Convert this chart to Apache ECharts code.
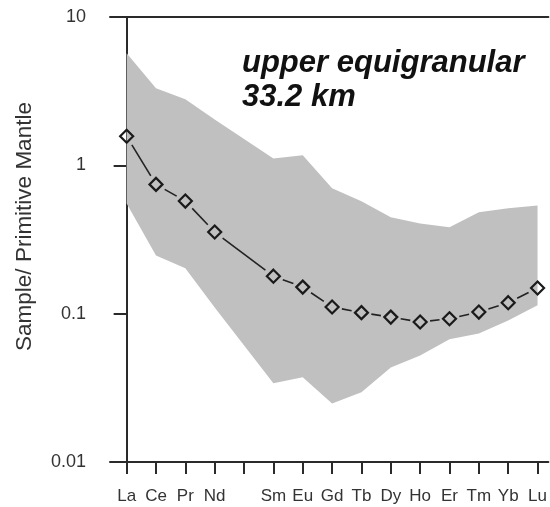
<!DOCTYPE html>
<html>
<head>
<meta charset="utf-8">
<script src="https://cdn.jsdelivr.net/npm/echarts@6/dist/echarts.min.js"></script>
<style>
html,body{margin:0;padding:0;background:#fff;}
#chart{width:550px;height:507px;}
</style>
</head>
<body>
<div id="chart"></div>
<script>
// Element names (Pm position left unlabelled, no data)
var elements = ['La','Ce','Pr','Nd','','Sm','Eu','Gd','Tb','Dy','Ho','Er','Tm','Yb','Lu'];
// Sample / primitive mantle values
var sample = [1.57, 0.744, 0.574, 0.355, null, 0.179, 0.151, 0.111, 0.1016, 0.0948, 0.0878, 0.0925, 0.1025, 0.1186, 0.149];
// Envelope of the grey field
var fieldUpper = [5.69, 3.31, 2.79, 2.04, null, 1.11, 1.17, 0.70, 0.572, 0.446, 0.406, 0.382, 0.482, 0.513, 0.537];
var fieldLower = [0.554, 0.247, 0.202, 0.110, null, 0.0339, 0.0372, 0.0248, 0.0295, 0.0434, 0.0523, 0.0671, 0.0736, 0.0901, 0.1138];
var yTicks = [0.01, 0.1, 1, 10];
var annotation = ['upper equigranular', '33.2 km'];

var grey = '#c0c0c0';
var ink = '#2a2a2a';

function pairs(arr) {
  var out = [];
  arr.forEach(function (v, i) { if (v !== null) out.push([i, v]); });
  return out;
}
var samplePts = pairs(sample);
var upperPts = pairs(fieldUpper);
var lowerPts = pairs(fieldLower);
var segIdx = samplePts.slice(1).map(function (p, i) { return i; });
var tickIdx = elements.map(function (e, i) { return i; });
var labelIdx = elements.map(function (e, i) { return i; }).filter(function (i) { return elements[i] !== ''; });

var GAP = 10; // px gap left around each marker

var chart = echarts.init(document.getElementById('chart'));
chart.setOption({
  animation: false,
  backgroundColor: '#fff',
  grid: { left: 110, right: 0, top: 17, bottom: 45, containLabel: false },
  xAxis: [{
    type: 'value', min: -0.567, max: 14.37, position: 'bottom',
    axisLine: { show: true, lineStyle: { color: ink, width: 2 } },
    axisTick: { show: true, customValues: tickIdx, length: 12, inside: false, lineStyle: { color: ink, width: 2 } },
    axisLabel: { show: true, customValues: labelIdx, margin: 26, fontSize: 17, color: '#333',
      fontFamily: 'Liberation Sans, Arial, sans-serif',
      formatter: function (v) { return elements[Math.round(v)] || ''; } },
    splitLine: { show: false }
  }, {
    type: 'value', min: -0.567, max: 14.37, position: 'top',
    axisLine: { show: true, lineStyle: { color: ink, width: 2 } },
    axisTick: { show: false }, axisLabel: { show: false }, splitLine: { show: false }
  }],
  yAxis: {
    type: 'log', logBase: 10, min: 0.01, max: 10,
    name: 'Sample/ Primitive Mantle', nameLocation: 'middle', nameGap: 74, nameRotate: 90,
    nameTextStyle: { fontSize: 22.5, color: '#333', fontFamily: 'Liberation Sans, Arial, sans-serif', padding: [0, 0, 0, 26] },
    axisLine: { show: true, lineStyle: { color: ink, width: 2 } },
    axisTick: { show: true, length: 13, inside: false, lineStyle: { color: ink, width: 2 } },
    axisLabel: { margin: 24, fontSize: 18, color: '#333', fontFamily: 'Liberation Sans, Arial, sans-serif',
      customValues: yTicks,
      formatter: function (v) { return String(+v.toPrecision(2)); } },
    splitLine: { show: false }
  },
  series: [{
    type: 'custom',
    z: 1,
    data: [0],
    renderItem: function (params, api) {
      var pts = [];
      upperPts.forEach(function (p) { pts.push(api.coord(p)); });
      for (var i = lowerPts.length - 1; i >= 0; i--) pts.push(api.coord(lowerPts[i]));
      return { type: 'polygon', shape: { points: pts }, style: { fill: grey, stroke: null } };
    },
    silent: true
  }, {
    // connecting line, broken around each marker
    type: 'custom', z: 2, data: segIdx, silent: true,
    renderItem: function (params, api) {
      var i = params.dataIndex;
      var a = api.coord(samplePts[i]);
      var b = api.coord(samplePts[i + 1]);
      var dx = b[0] - a[0], dy = b[1] - a[1];
      var len = Math.sqrt(dx * dx + dy * dy);
      var ux = dx / len, uy = dy / len;
      return {
        type: 'line',
        shape: { x1: a[0] + ux * GAP, y1: a[1] + uy * GAP, x2: b[0] - ux * GAP, y2: b[1] - uy * GAP },
        style: { stroke: '#222', lineWidth: 1.6 }
      };
    }
  }, {
    type: 'scatter', z: 6, data: samplePts, symbol: 'diamond', symbolSize: [13, 13],
    itemStyle: { color: 'rgba(0,0,0,0)', borderColor: '#1a1a1a', borderWidth: 2.2, opacity: 1 }, silent: true
  }],
  graphic: [{
    type: 'text', left: 242, top: 48, z: 10,
    style: { text: annotation[0], font: 'italic bold 31px "Liberation Sans", Arial, sans-serif', fill: '#111' }
  }, {
    type: 'text', left: 242, top: 82, z: 10,
    style: { text: annotation[1], font: 'italic bold 31px "Liberation Sans", Arial, sans-serif', fill: '#111' }
  }]
});
</script>
</body>
</html>
